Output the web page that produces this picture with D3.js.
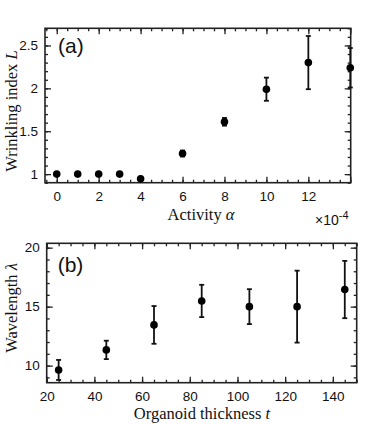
<!DOCTYPE html>
<html><head><meta charset="utf-8">
<script src="https://cdn.jsdelivr.net/npm/d3@7"></script>
<style>body{margin:0;background:#fff}svg{display:block}</style>
</head><body>
<script>
// Panel (a)
const activity = [0, 1, 2, 3, 4, 6, 8, 10, 12, 14];
const wrinkling = [1.0, 1.0, 1.0, 1.0, 0.945, 1.24, 1.61, 1.99, 2.30, 2.24];
const wrinklingErr = [0, 0, 0, 0, 0, 0.035, 0.045, 0.135, 0.31, 0.23];
const aXTicks = [0, 2, 4, 6, 8, 10, 12];
const aYTicks = [1, 1.5, 2, 2.5];
const aYTickLabels = ["1", "1.5", "2", "2.5"];
// Panel (b)
const thickness = [25, 45, 65, 85, 105, 125, 145];
const wavelength = [9.63, 11.33, 13.45, 15.48, 15.0, 15.0, 16.45];
const wavelengthErr = [0.85, 0.78, 1.6, 1.37, 1.48, 3.05, 2.43];
const bXTicks = [20, 40, 60, 80, 100, 120, 140];
const bYTicks = [10, 15, 20];

const W = 374, H = 425;
const svg = d3.select("body").append("svg").attr("width", W).attr("height", H);
const sans = "'Liberation Sans', Arial, sans-serif";
const serif = "'Liberation Serif', 'Times New Roman', serif";

function panel(o) {
  const g = svg.append("g");
  const x = d3.scaleLinear().domain(o.xd).range([o.left, o.right]);
  const y = d3.scaleLinear().domain(o.yd).range([o.bottom, o.top]);
  const xMinor = d3.range(Math.ceil(o.xd[0] / o.xm) * o.xm, o.xd[1] + 1e-9, o.xm);
  const yMinor = d3.range(Math.ceil(o.yd[0] / o.ym) * o.ym, o.yd[1] + 1e-9, o.ym);
  const mk = (axis, sc, vals, len) => axis(sc).tickValues(vals).tickSize(-len).tickFormat("");
  const drawAxis = (axis, sc, tr, vals, len) => {
    const a = g.append("g").attr("transform", tr).call(mk(axis, sc, vals, len));
    a.select(".domain").remove();
    a.selectAll("line").attr("stroke", "#222").attr("stroke-width", 1.3);
  };
  const xMajor = d3.range(Math.ceil(o.xd[0] / o.xM) * o.xM, o.xd[1] + 1e-9, o.xM);
  const yMajor = d3.range(Math.ceil(o.yd[0] / o.yM) * o.yM, o.yd[1] + 1e-9, o.yM);
  drawAxis(d3.axisBottom, x, `translate(0,${o.bottom})`, xMinor, 3);
  drawAxis(d3.axisBottom, x, `translate(0,${o.bottom})`, xMajor, 6);
  drawAxis(d3.axisTop, x, `translate(0,${o.top})`, xMinor, 3);
  drawAxis(d3.axisTop, x, `translate(0,${o.top})`, xMajor, 6);
  drawAxis(d3.axisLeft, y, `translate(${o.left},0)`, yMinor, 3);
  drawAxis(d3.axisLeft, y, `translate(${o.left},0)`, yMajor, 6);
  drawAxis(d3.axisRight, y, `translate(${o.right},0)`, yMinor, 3);
  drawAxis(d3.axisRight, y, `translate(${o.right},0)`, yMajor, 6);
  g.append("rect").attr("x", o.left).attr("y", o.top)
    .attr("width", o.right - o.left).attr("height", o.bottom - o.top)
    .attr("fill", "none").attr("stroke", "#222").attr("stroke-width", 1.6);
  const xl = d3.axisBottom(x).tickValues(o.xTicks).tickSize(0).tickPadding(9);
  const xa = g.append("g").attr("transform", `translate(0,${o.bottom})`).call(xl);
  xa.select(".domain").remove();
  xa.selectAll("text").attr("font-family", sans).attr("font-size", 13.5).attr("fill", "#111");
  const yl = d3.axisLeft(y).tickValues(o.yTicks).tickSize(0).tickPadding(7)
    .tickFormat((d, i) => o.yLabels ? o.yLabels[i] : d);
  const ya = g.append("g").attr("transform", `translate(${o.left},0)`).call(yl);
  ya.select(".domain").remove();
  ya.selectAll("text").attr("font-family", sans).attr("font-size", 13.5).attr("fill", "#111");
  const data = o.xs.map((d, i) => ({x: d, y: o.ys[i], e: o.es[i]}));
  const eb = g.append("g").attr("stroke", "#111").attr("stroke-width", 1.8);
  data.filter(d => d.e > 0).forEach(d => {
    const cx = x(d.x), y1 = y(d.y + d.e), y2 = y(d.y - d.e);
    eb.append("line").attr("x1", cx).attr("x2", cx).attr("y1", y1).attr("y2", y2);
    eb.append("line").attr("x1", cx - 2.5).attr("x2", cx + 2.5).attr("y1", y1).attr("y2", y1);
    eb.append("line").attr("x1", cx - 2.5).attr("x2", cx + 2.5).attr("y1", y2).attr("y2", y2);
  });
  g.append("g").selectAll("circle").data(data).join("circle")
    .attr("cx", d => x(d.x)).attr("cy", d => y(d.y)).attr("r", 3.8).attr("fill", "#000");
  g.append("text").attr("x", o.left + o.letterDx).attr("y", o.top + o.letterDy)
    .attr("font-family", sans).attr("font-size", 21).attr("fill", "#111").text(o.letter);
  return {g, x, y};
}

panel({id: "a", left: 45, right: 350.7, top: 28.3, bottom: 182.7,
  xd: [-0.56, 14.02], yd: [0.9, 2.7], xm: 0.5, xM: 2, ym: 0.1, yM: 0.5,
  xTicks: aXTicks, yTicks: aYTicks, yLabels: aYTickLabels,
  xs: activity, ys: wrinkling, es: wrinklingErr, letter: "(a)", letterDx: 13, letterDy: 25});

panel({id: "b", left: 46.7, right: 356.7, top: 243.3, bottom: 382.7,
  xd: [20, 150], yd: [8.55, 20.37], xm: 5, xM: 20, ym: 1, yM: 5,
  xTicks: bXTicks, yTicks: bYTicks,
  xs: thickness, ys: wavelength, es: wavelengthErr, letter: "(b)", letterDx: 11, letterDy: 28.5});

function ylab(cx, cy, parts) {
  const t = svg.append("text").attr("transform", `translate(${cx},${cy}) rotate(-90)`)
    .attr("text-anchor", "middle").attr("font-family", serif).attr("font-size", 16.5).attr("fill", "#111");
  parts.forEach(p => t.append("tspan").attr("font-style", p[1] ? "italic" : null).text(p[0]));
}
function xlab(cx, cy, parts) {
  const t = svg.append("text").attr("x", cx).attr("y", cy)
    .attr("text-anchor", "middle").attr("font-family", serif).attr("font-size", 16.5).attr("fill", "#111");
  parts.forEach(p => t.append("tspan").attr("font-style", p[1] ? "italic" : null).text(p[0]));
}
ylab(16.5, 111, [["Wrinkling index ", false], ["L", true]]);
xlab(201, 220, [["Activity ", false], ["α", true]]);
ylab(16.5, 308, [["Wavelength ", false], ["λ", true]]);
xlab(202, 419, [["Organoid thickness ", false], ["t", true]]);

const m = svg.append("text").attr("x", 315).attr("y", 225).attr("font-family", sans)
  .attr("font-size", 14).attr("fill", "#111");
m.append("tspan").text("×10");
m.append("tspan").attr("dy", -6).attr("font-size", 11).text("-4");
</script>
</body></html>
